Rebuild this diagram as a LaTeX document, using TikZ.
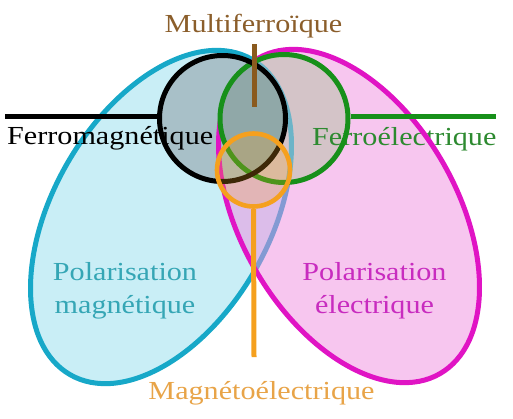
\documentclass[tikz,border=0pt]{standalone}
\usepackage{fontspec}
\setmainfont{Liberation Serif}
\definecolor{cyanfill}{HTML}{C9EEF6}
\definecolor{cyanline}{HTML}{17A8C8}
\definecolor{magfill}{HTML}{EF8DDF}
\definecolor{magline}{HTML}{E014C4}
\definecolor{grline}{HTML}{17901A}
\definecolor{orline}{HTML}{F5A01E}
\definecolor{brline}{HTML}{8A5A1E}
\definecolor{bkfill}{HTML}{A8C0C8}
\definecolor{grfill}{HTML}{D4C4C8}
\definecolor{bgfill}{HTML}{90A8A8}
\definecolor{mftext}{HTML}{8B5E2B}
\definecolor{fetext}{HTML}{2D8A30}
\definecolor{pmtext}{HTML}{35A6B5}
\definecolor{petext}{HTML}{C82CBF}
\definecolor{metext}{HTML}{E8A448}
\newcommand{\wide}[1]{\scalebox{1.16}[1]{#1}}
\newcommand{\cyanpath}{(161,217) ellipse [x radius=182pt, y radius=108pt]}
\newcommand{\magpath}{(349,216) ellipse [x radius=182pt, y radius=108pt]}
\newcommand{\bkpath}{(222.5,118.5) circle [radius=63pt]}
\newcommand{\grpath}{(284,118.5) circle [radius=64pt]}
\begin{document}
\begin{tikzpicture}[x=1pt,y=-1pt,
  lbl/.style={inner sep=0pt, anchor=base, font=\fontsize{26}{30}\selectfont},
  ring/.style={circle, inner sep=0pt, line width=5pt},
  connector/.style={line width=5pt}]
\useasboundingbox (0,0) rectangle (513,418);
% cyan ellipse
\fill[cyanfill, rotate around={60:(161,217)}] \cyanpath;
\begin{scope}[even odd rule]
  \clip (-10,-10) rectangle (523,428) \bkpath;
  \draw[cyanline, line width=5pt, rotate around={60:(161,217)}] \cyanpath;
\end{scope}
% magenta ellipse fill
\fill[magfill, fill opacity=0.5, rotate around={-60:(349,216)}] \magpath;
% circle areas
\fill[bkfill] \bkpath;
\fill[grfill] \grpath;
\begin{scope}
  \clip \bkpath;
  \fill[bgfill] \grpath;
\end{scope}
% cyan outline seen faintly through the green circle
\begin{scope}[even odd rule]
  \clip (-10,-10) rectangle (523,428) \bkpath;
  \clip \grpath;
  \draw[cyanline, line width=5pt, opacity=0.55, rotate around={60:(161,217)}] \cyanpath;
\end{scope}
% labels under the outlines
\node[lbl, anchor=base west] (fm) at (7,144) {\wide{Ferromagnétique}};
\node[lbl, anchor=base west, text=fetext] (fe) at (312,145) {\wide{Ferroélectrique}};
\node[lbl, text=pmtext] (pm1) at (125,280) {\wide{Polarisation}};
\node[lbl, text=pmtext] (pm2) at (125,313) {\wide{magnétique}};
\node[lbl, text=petext] (pe1) at (374.5,280) {\wide{Polarisation}};
\node[lbl, text=petext] (pe2) at (374.5,313) {\wide{électrique}};
% magenta outline, hidden inside the green circle
\begin{scope}[even odd rule]
  \clip (-10,-10) rectangle (523,428) \grpath;
  \draw[magline, line width=5pt, rotate around={-60:(349,216)}] \magpath;
\end{scope}
% circle outlines
\node[ring, minimum size=128pt, draw=grline] (gr) at (284,118.5) {};
\node[ring, minimum size=126pt, draw=black] (bk) at (222.5,118.5) {};
\node[ring, minimum size=73pt, line width=4.6pt, draw=orline, fill=orline, fill opacity=0.25] (or) at (253.5,170) {};
% connectors
\coordinate (fmEnd) at (5,116);
\coordinate (feEnd) at (496,116);
\coordinate (mfTop) at (254,44);
\coordinate (mfBot) at (254,107);
\coordinate (meEnd) at (254,357);
\draw[connector, black] (fmEnd) -- (fmEnd -| bk.west);
\draw[connector, grline] (gr.east |- feEnd) -- (feEnd);
\draw[connector, brline] (mfTop) -- (mfBot);
\draw[connector, orline] (or.south) -- (meEnd);
% top and bottom labels
\node[lbl, text=mftext] (mf) at (253.5,32) {\wide{Multiferroïque}};
\node[lbl, text=metext] (me) at (261.5,399) {\wide{Magnétoélectrique}};
\end{tikzpicture}
\end{document}
